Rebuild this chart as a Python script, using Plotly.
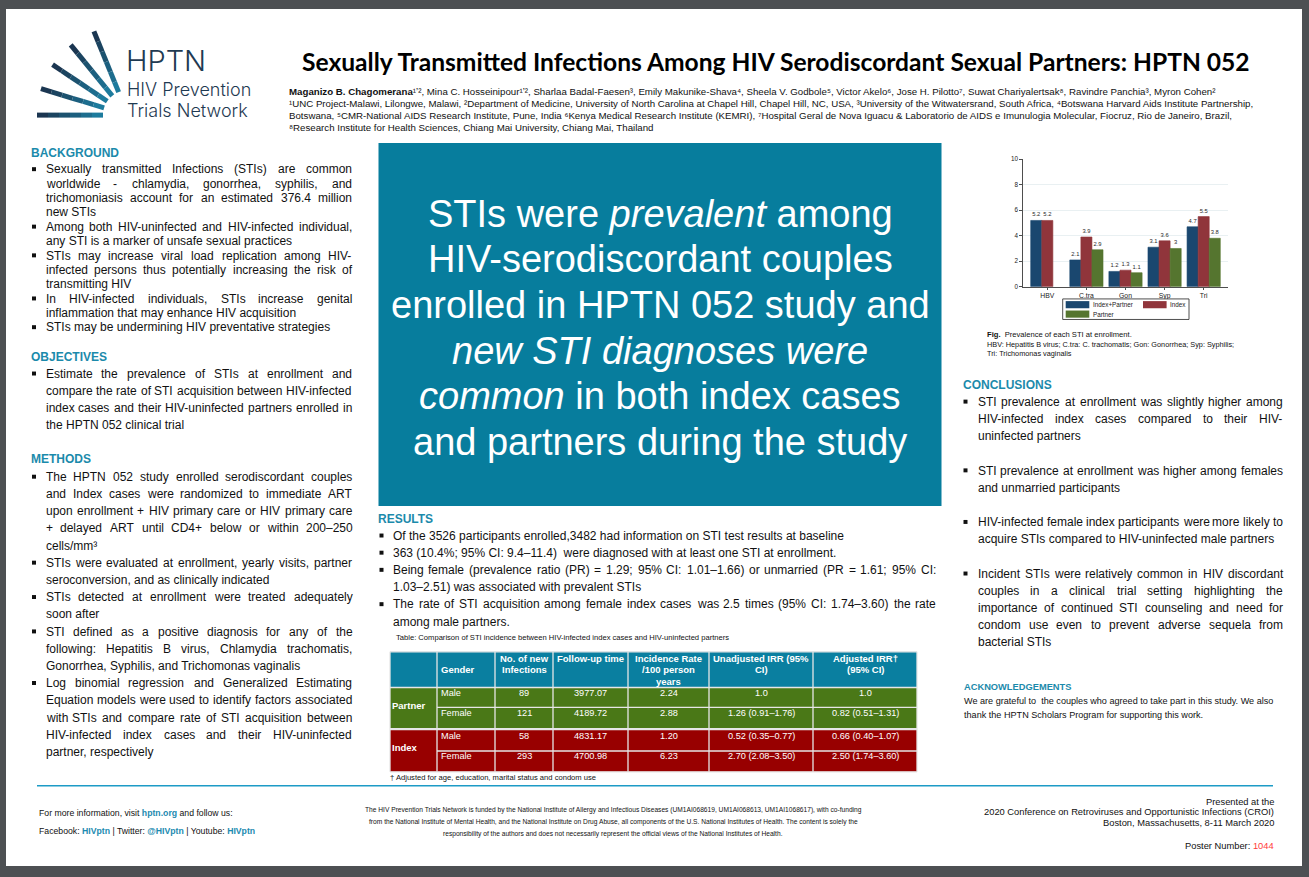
import plotly.graph_objects as go
import math

W, H = 1309, 877
BODY = "Liberation Sans, Arial, sans-serif"
TEAL_H = "#1b8aab"

# ---------------- data ----------------
categories = ["HBV", "C.tra", "Gon", "Syp", "Tri"]
series_names = ["Index+Partner", "Index", "Partner"]
index_partner = [5.2, 2.1, 1.2, 3.1, 4.7]
index_only = [5.2, 3.9, 1.3, 3.6, 5.5]
partner_only = [None, 2.9, 1.1, 3.0, 3.8]
series_colors = ["#1a476f", "#90353b", "#55752f"]
y_ticks = [0, 2, 4, 6, 8, 10]

tbl_groups = ["Partner", "Index"]
tbl_gender = ["Male", "Female", "Male", "Female"]
tbl_new_inf = [89, 121, 58, 293]
tbl_followup = [3977.07, 4189.72, 4831.17, 4700.98]
tbl_rate = [2.24, 2.88, 1.20, 6.23]
tbl_unadj = ["1.0", "1.26 (0.91–1.76)", "0.52 (0.35–0.77)", "2.70 (2.08–3.50)"]
tbl_adj = ["1.0", "0.82 (0.51–1.31)", "0.66 (0.40–1.07)", "2.50 (1.74–3.60)"]
tbl_headers = [["Gender"], ["No. of new", "Infections"], ["Follow-up time"],
               ["Incidence Rate", "/100 person", "years"], ["Unadjusted IRR (95%", "CI)"],
               ["Adjusted IRR†", "(95% CI)"]]

# ---------------- helpers ----------------
_w = [278,278,355,556,556,889,667,191,333,333,389,584,278,333,278,278] + [556]*10 + \
     [278,278,584,584,584,556,1015] + \
     [667,667,722,722,667,611,778,722,278,500,667,556,833,722,778,667,778,722,667,611,722,667,944,667,667,611] + \
     [278,278,278,469,556,333] + \
     [556,556,500,556,556,278,556,556,222,222,500,222,833,556,556,556,556,333,500,278,556,500,722,500,500,500] + \
     [334,260,334,584]
HELV = {chr(32 + i): w for i, w in enumerate(_w)}
HELV.update({"–": 556, "—": 1000, "†": 556, "’": 222})


def tw(s, size):
    return sum(HELV.get(c, 556) for c in s) / 1000.0 * size


def PX(x):
    return x / W


def PY(y):
    return 1 - y / H


annotations = []
shapes = []


def text(x, y, s, size=12, color="#111111", anchor="left", family=BODY, weight=None, yanchor="middle"):
    f = dict(size=size, color=color, family=family)
    if weight is not None:
        f["weight"] = weight
    annotations.append(dict(x=PX(x), y=PY(y), xref="paper", yref="paper", text=s, showarrow=False,
                            xanchor=anchor, yanchor=yanchor, font=f, borderpad=0, borderwidth=0))


def rect(x0, y0, x1, y1, fill, line_color=None, lw=0, layer="below"):
    shapes.append(dict(type="rect", xref="paper", yref="paper", x0=PX(x0), x1=PX(x1), y0=PY(y0), y1=PY(y1),
                       fillcolor=fill, line=dict(color=line_color or fill, width=lw), layer=layer))


def seg(x0, y0, x1, y1, color, width, layer="above"):
    shapes.append(dict(type="line", xref="paper", yref="paper", x0=PX(x0), x1=PX(x1), y0=PY(y0), y1=PY(y1),
                       line=dict(color=color, width=width), layer=layer))


def bullets(paras, xb, x0, x1, y0, dy, size=12, gap_lines=0):
    y = y0
    for lines in paras:
        for i, ln in enumerate(lines):
            if i == 0:
                rect(xb - 2, y - 2.2, xb + 2, y + 1.8, "#111111", layer="above")
            last = i == len(lines) - 1
            words = ln.split()
            if not last and len(words) > 1:
                wsum = sum(tw(w, size) for w in words)
                gap = (x1 - x0 - wsum) / (len(words) - 1)
                x = x0
                for w in words:
                    text(x, y, w, size=size)
                    x += tw(w, size) + gap
            else:
                text(x0, y, ln, size=size)
            y += dy
        y += dy * gap_lines


# ---------------- page ----------------
rect(6, 5, 1302, 869, "#ffffff")

# logo rays
fx, fy = 128, 112
for ang in [112, 129, 146, 163, 180]:
    a = math.radians(ang)
    r_out, r_in = 91, 25
    n = 6
    c0 = (27, 48, 74)
    c1 = (30, 130, 165)
    for k in range(n):
        ra = r_out - (r_out - r_in) * k / n
        rb = r_out - (r_out - r_in) * (k + 1) / n
        t = (k + 0.5) / n
        col = "rgb(%d,%d,%d)" % tuple(int(c0[j] + (c1[j] - c0[j]) * t) for j in range(3))
        seg(fx + ra * math.cos(a), fy - ra * math.sin(a), fx + rb * math.cos(a), fy - rb * math.sin(a), col, 5)

LOGO = "Inter, Lato, sans-serif"
text(126, 57, "HPTN", size=29, color="#1f3a52", family=LOGO, weight=300)
text(127, 86, "HIV Prevention", size=18, color="#1f3a52", family=LOGO, weight=300)
text(127, 107, "Trials Network", size=18, color="#1f3a52", family=LOGO, weight=300)

# title
text(776, 58, "Sexually Transmitted Infections Among HIV Serodiscordant Sexual Partners: HPTN 052",
     size=24.6, color="#000000", anchor="center", family="Lato", weight=700)

authors = [
    "<b>Maganizo B. Chagomerana</b>¹ʼ², Mina C. Hosseinipour¹ʼ², Sharlaa Badal-Faesen³, Emily Makunike-Shava⁴, Sheela V. Godbole⁵, Victor Akelo⁶, Jose H. Pilotto⁷, Suwat Chariyalertsak⁸, Ravindre Panchia³, Myron Cohen²",
    "¹UNC Project-Malawi, Lilongwe, Malawi, ²Department of Medicine, University of North Carolina at Chapel Hill, Chapel Hill, NC, USA, ³University of the Witwatersrand, South Africa, ⁴Botswana Harvard Aids Institute Partnership,",
    "Botswana, ⁵CMR-National AIDS Research Institute, Pune, India ⁶Kenya Medical Research Institute (KEMRI), ⁷Hospital Geral de Nova Iguacu &amp; Laboratorio de AIDS e Imunulogia Molecular, Fiocruz, Rio de Janeiro, Brazil,",
    "⁸Research Institute for Health Sciences, Chiang Mai University, Chiang Mai, Thailand",
]
for i, a in enumerate(authors):
    text(289, 88 + 12 * i, a, size=9.7, color="#111111")

# ---------------- left column ----------------
text(31, 150.7, "BACKGROUND", size=12, color=TEAL_H, weight=700)
bullets([
    ["Sexually transmitted Infections (STIs) are common", "worldwide - chlamydia, gonorrhea, syphilis, and",
     "trichomoniasis account for an estimated 376.4 million", "new STIs"],
    ["Among both HIV-uninfected and HIV-infected individual,", "any STI is a marker of unsafe sexual practices"],
    ["STIs may increase viral load replication among HIV-", "infected persons thus potentially increasing the risk of",
     "transmitting HIV"],
    ["In HIV-infected individuals, STIs increase genital", "inflammation that may enhance HIV acquisition"],
    ["STIs may be undermining HIV preventative strategies"],
], 34, 45.7, 352.3, 166.7, 14.48)

text(31, 356, "OBJECTIVES", size=12, color=TEAL_H, weight=700)
bullets([
    ["Estimate the prevalence of STIs at enrollment and", "compare the rate of STI acquisition between HIV-infected",
     "index cases and their HIV-uninfected partners enrolled in", "the HPTN 052 clinical trial"],
], 34, 45.7, 352.3, 372.7, 17.33)

text(31, 458.3, "METHODS", size=12, color=TEAL_H, weight=700)
bullets([
    ["The HPTN 052 study enrolled serodiscordant couples", "and Index cases were randomized to immediate ART",
     "upon enrollment + HIV primary care or HIV primary care", "+ delayed ART until CD4+ below or within 200–250",
     "cells/mm³"],
    ["STIs were evaluated at enrollment, yearly visits, partner", "seroconversion, and as clinically indicated"],
    ["STIs detected at enrollment were treated adequately", "soon after"],
    ["STI defined as a positive diagnosis for any of the", "following: Hepatitis B virus, Chlamydia trachomatis,",
     "Gonorrhea, Syphilis, and Trichomonas vaginalis"],
    ["Log binomial regression and Generalized Estimating", "Equation models were used to identify factors associated",
     "with STIs and compare rate of STI acquisition between", "HIV-infected index cases and their HIV-uninfected",
     "partner, respectively"],
], 34, 45.7, 352.3, 476.7, 17.33)

# ---------------- center ----------------
rect(378.5, 140, 941.5, 506, "#077d9d")
box_lines = ["STIs were <i>prevalent</i> among", "HIV-serodiscordant couples", "enrolled in HPTN 052 study and",
             "<i>new STI diagnoses were</i>", "<i>common</i> in both index cases", "and partners during the study"]
for i, s in enumerate(box_lines):
    text(660, 211.5 + 46 * i, s, size=38, color="#ffffff", anchor="center")

text(378, 519, "RESULTS", size=12, color=TEAL_H, weight=700)
bullets([
    ["Of the 3526 participants enrolled,3482 had information on STI test results at baseline"],
    ["363 (10.4%; 95% CI: 9.4–11.4)  were diagnosed with at least one STI at enrollment."],
    ["Being female (prevalence ratio (PR) = 1.29; 95% CI: 1.01–1.66) or unmarried (PR = 1.61; 95% CI:",
     "1.03–2.51) was associated with prevalent STIs"],
    ["The rate of STI acquisition among female index cases was 2.5 times (95% CI: 1.74–3.60) the rate",
     "among male partners."],
], 381.5, 393, 936, 536, 17.3)

cap = "Table: Comparison of STI incidence between HIV-infected index cases and HIV-uninfected partners"
text(396, 638.3, cap, size=7.6, color="#111111")

# table
cx = [390, 437, 495, 553, 628, 709, 813, 917]
ry = [653, 689, 709, 731, 753, 774]
HEAD, GREEN, RED = "#0a7fa0", "#4a7817", "#980000"
rect(cx[0], ry[0], cx[-1], ry[1], HEAD)
rect(cx[0], ry[1], cx[-1], ry[3], GREEN)
rect(cx[0], ry[3], cx[-1], ry[5], RED)
LC = "#e6e6e6"
for x in cx:
    seg(x, ry[0], x, ry[5], LC, 1.3, layer="below")
for j, y in enumerate(ry):
    if j in (2, 4):
        seg(cx[1], y, cx[-1], y, LC, 1.3, layer="below")
    elif j == 3:
        seg(cx[0], y, cx[-1], y, LC, 2.2, layer="below")
    else:
        seg(cx[0], y, cx[-1], y, LC, 1.3, layer="below")

for c, hl in enumerate(tbl_headers):
    if c == 0:
        text(cx[1] + 4, 671, hl[0], size=9.5, color="#ffffff", weight=700)
    else:
        xc = (cx[c + 1] + cx[c + 2]) / 2
        for k, s in enumerate(hl):
            text(xc, 659.3 + 11.7 * k, s, size=9.5, color="#ffffff", anchor="center", weight=700)

text(cx[0] + 2, 706.7, tbl_groups[0], size=9.5, color="#ffffff", weight=700)
text(cx[0] + 2, 749.3, tbl_groups[1], size=9.5, color="#ffffff", weight=700)
row_y = [694.7, 714.3, 737.7, 757.7]
for r in range(4):
    y = row_y[r]
    vals = [str(tbl_new_inf[r]), "%.2f" % tbl_followup[r], "%.2f" % tbl_rate[r], tbl_unadj[r], tbl_adj[r]]
    text(cx[1] + 4, y, tbl_gender[r], size=9.2, color="#ffffff")
    for k, v in enumerate(vals):
        text((cx[k + 2] + cx[k + 3]) / 2, y, v, size=9.2, color="#ffffff", anchor="center")

text(390, 779.5, "† Adjusted for age, education, marital status and condom use", size=7.6, color="#111111")

# ---------------- right column: chart ----------------
ax_x0, ax_x1, ax_y0, ax_y1 = 1022.7, 1228.3, 285, 156.5
fig = go.Figure()
for name, vals, col in zip(series_names, [index_partner, index_only, partner_only], series_colors):
    fig.add_trace(go.Bar(
        x=categories, y=vals, name=name, marker=dict(color=col, line=dict(color=col, width=0.6)),
        text=[("%g" % v) if v is not None else "" for v in vals], textposition="outside",
        textfont=dict(size=5.8, color="#2a2a2a", family=BODY), cliponaxis=False, showlegend=False))

# custom legend (Stata style)
rect(1062.7, 297.3, 1189, 318, "#ffffff", "#222222", 0.8, layer="above")
leg_pos = [(1065.7, 299.5, 1092.7), (1143, 299.5, 1170), (1065.7, 309, 1092.7)]
for (sx, sy, lx), name, col in zip(leg_pos, series_names, series_colors):
    rect(sx, sy, sx + 23.6, sy + 7.2, col, layer="above")
    text(lx, sy + 3.6, name, size=6.3, color="#222222")

text(986.7, 332.7, "<b>Fig.</b>  Prevalence of each STI at enrollment.", size=7.6, color="#111111")
text(986.7, 343.3, "HBV: Hepatitis B virus; C.tra: C. trachomatis; Gon: Gonorrhea; Syp: Syphilis;", size=7.3, color="#111111")
text(986.7, 352.3, "Tri: Trichomonas vaginalis", size=7.3, color="#111111")

# conclusions
text(962.7, 384, "CONCLUSIONS", size=12, color=TEAL_H, weight=700)
bullets([
    ["STI prevalence at enrollment was slightly higher among", "HIV-infected index cases compared to their HIV-",
     "uninfected partners"],
    ["STI prevalence at enrollment was higher among females", "and unmarried participants"],
    ["HIV-infected female index participants were more likely to", "acquire STIs compared to HIV-uninfected male partners"],
    ["Incident STIs were relatively common in HIV discordant", "couples in a clinical trial setting highlighting the",
     "importance of continued STI counseling and need for", "condom use even to prevent adverse sequela from",
     "bacterial STIs"],
], 965.5, 977.7, 1283, 401, 17.33, gap_lines=1)

text(964, 688.7, "ACKNOWLEDGEMENTS", size=9.3, color=TEAL_H, weight=700)
text(964, 702.3, "We are grateful to  the couples who agreed to take part in this study. We also", size=9.1, color="#111111")
text(964, 716.3, "thank the HPTN Scholars Program for supporting this work.", size=9.1, color="#111111")

# ---------------- footer ----------------
seg(37, 788, 1273, 788, "#1d9bc6", 1.5)
LINK = '<span style="color:#1b8ab0"><b>%s</b></span>'
text(39, 816, "For more information, visit " + LINK % "hptn.org" + " and follow us:", size=8.7, color="#111111")
text(39, 833.7, "Facebook: " + LINK % "HIVptn" + " | Twitter: " + LINK % "@HIVptn" + " | Youtube: " + LINK % "HIVptn",
     size=8.7, color="#111111")

fund = ["The HIV Prevention Trials Network is funded by the National Institute of Allergy and Infectious Diseases (UM1AI068619, UM1AI068613, UM1AI1068617), with co-funding",
        "from the National Institute of Mental Health, and the National Institute on Drug Abuse, all components of the U.S. National Institutes of Health. The content is solely the",
        "responsibility of the authors and does not necessarily represent the official views of the National Institutes of Health."]
fs = 498 / tw(fund[0], 1)
for i, s in enumerate(fund):
    text(613, 812 + 12.3 * i, s, size=fs, color="#111111", anchor="center")

pres = ["Presented at the", "2020 Conference on Retroviruses and Opportunistic Infections (CROI)",
        "Boston, Massachusetts, 8-11 March 2020"]
ps = 290 / tw(pres[1], 1)
for i, s in enumerate(pres):
    text(1274, 804 + 11 * i, s, size=ps, color="#111111", anchor="right")
text(1274, 848.3, 'Poster Number: <span style="color:#ff3b3b">1044</span>', size=ps, color="#111111", anchor="right")

fig.update_layout(
    width=W, height=H, margin=dict(l=0, r=0, t=0, b=0), autosize=False,
    paper_bgcolor="#4d5053", plot_bgcolor="#ffffff",
    barmode="group", bargap=0.15, bargroupgap=0.0,
    showlegend=False,
    xaxis=dict(domain=[PX(ax_x0), PX(ax_x1)], range=[-0.63, 4.63], type="category",
               showline=True, linecolor="#222222", linewidth=0.8, ticks="outside", ticklen=2,
               tickcolor="#222222", tickwidth=0.8, showgrid=False, zeroline=False,
               tickfont=dict(size=6.8, color="#222222", family=BODY)),
    yaxis=dict(domain=[PY(ax_y0), PY(ax_y1)], range=[0, 10], tickvals=y_ticks,
               showline=True, linecolor="#222222", linewidth=0.8, ticks="outside", ticklen=2.5,
               tickcolor="#222222", tickwidth=0.8, showgrid=True, gridcolor="#e3ecef", gridwidth=0.8,
               zeroline=False, tickfont=dict(size=6.3, color="#222222", family=BODY)),
    shapes=shapes, annotations=annotations,
)

fig.write_html("out.html", include_plotlyjs=True, config={"displayModeBar": False, "staticPlot": True},
               post_script="document.body.style.margin='0';document.body.style.overflow='hidden';")
